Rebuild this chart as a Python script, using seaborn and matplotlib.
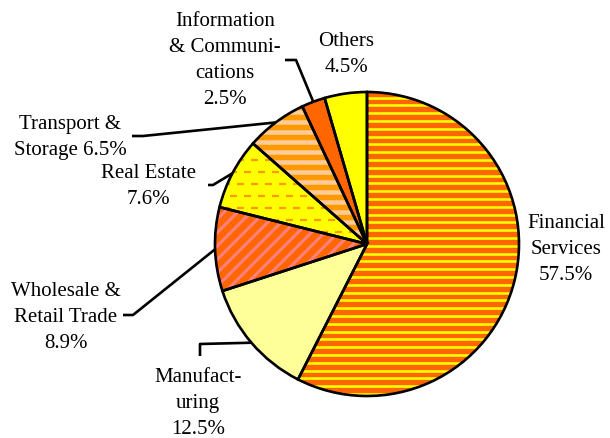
import numpy as np
import matplotlib
matplotlib.use('Agg')
import matplotlib.pyplot as plt
import seaborn as sns

# ── DATA ──────────────────────────────────────────────────────
sectors = ['Financial Services', 'Manufacturing', 'Wholesale & Retail Trade',
           'Real Estate', 'Transport & Storage', 'Information & Communications',
           'Others']
shares = [57.5, 12.5, 8.9, 7.6, 6.5, 2.5, 4.5]
label_text = ['Financial\nServices\n57.5%', 'Manufact-\nuring\n12.5%',
              'Wholesale &\nRetail Trade\n8.9%', 'Real Estate\n7.6%',
              'Transport &\nStorage 6.5%', 'Information\n& Communi-\ncations\n2.5%',
              'Others\n4.5%']

# ── STYLE ─────────────────────────────────────────────────────
sns.set_theme(style="white")
plt.rcParams['font.family'] = ['Liberation Serif', 'DejaVu Serif']

face_colors = ['#FF6600', '#FFFF99', '#FF6600', '#FFFF00', '#FF9900', '#FF6600', '#FFFF00']
# stripe fill: (angle, period px, width px, colour, dash on/off px or None)
stripes = [(0, 7.8, 2.6, '#FFFF00', None),
           None,
           (45, 9.5, 3.0, '#FF8080', None),
           (0, 12.0, 2.2, '#FF9900', (7, 7)),
           (0, 10.0, 4.5, '#FFCC99', None),
           None,
           None]

# label layout in pixel coords (image y down): text centre, leader elbow, leader end
text_pos = [(566, 250), (198, 404), (66, 317), (148, 186), (70, 138), (225, 61), (346, 54)]
elbows = [None, (200, 345), (133, 316), (213, 186), (143, 137), (296, 61), None]
ends = [None, (200, 357), (123, 316), (208, 186), (132, 137), (285, 61), None]

W, H = 610, 439
cx, cy, r = 367, H - 245, 152
PX = 72 / 100  # points per pixel

fig = plt.figure(figsize=(6.1, 4.39), dpi=100)
ax = fig.add_axes([0, 0, 1, 1])

wedges, _ = ax.pie(shares, colors=face_colors, startangle=90, counterclock=False,
                   center=(cx, cy), radius=r, frame=True,
                   wedgeprops=dict(linewidth=0))

# striped fills, clipped to each wedge
for w, st in zip(wedges, stripes):
    if st is None:
        continue
    ang, period, width, col, dash = st
    a = np.deg2rad(ang)
    d = np.array([np.cos(a), np.sin(a)])       # stripe direction
    nrm = np.array([-np.sin(a), np.cos(a)])    # offset direction
    for k, off in enumerate(np.arange(-r * 1.5, r * 1.5, period)):
        p0 = np.array([cx, cy]) + nrm * off - d * r * 1.5
        p1 = np.array([cx, cy]) + nrm * off + d * r * 1.5
        kw = dict(color=col, lw=width * PX, solid_capstyle='butt', zorder=2)
        if dash:
            on, gap = dash
            shift = (k % 2) * (on + gap) / 2
            kw['linestyle'] = (shift / width, (on / width, gap / width))
            kw['dash_capstyle'] = 'butt'
        ln, = ax.plot([p0[0], p1[0]], [p0[1], p1[1]], **kw)
        ln.set_clip_path(w)

# black outlines on top
outl, _ = ax.pie(shares, startangle=90, counterclock=False, center=(cx, cy),
                 radius=r, frame=True,
                 wedgeprops=dict(fill=False, edgecolor='black', linewidth=1.9, zorder=3))
ax.set_xlim(0, W)
ax.set_ylim(0, H)
ax.set_aspect('equal')
ax.axis('off')

for i, w in enumerate(wedges):
    tx, ty = text_pos[i]
    ax.text(tx, H - ty, label_text[i], ha='center', va='center',
            fontsize=15, linespacing=1.5, color='black')
    if elbows[i] is not None:
        mid = np.deg2rad((w.theta1 + w.theta2) / 2)
        px, py = cx + r * np.cos(mid), cy + r * np.sin(mid)
        ex, ey = elbows[i]
        fx, fy = ends[i]
        ax.plot([px, ex, fx], [py, H - ey, H - fy], color='black', lw=1.9,
                solid_capstyle='butt', zorder=0.5)

fig.savefig('out.png', dpi=100, facecolor='white')
